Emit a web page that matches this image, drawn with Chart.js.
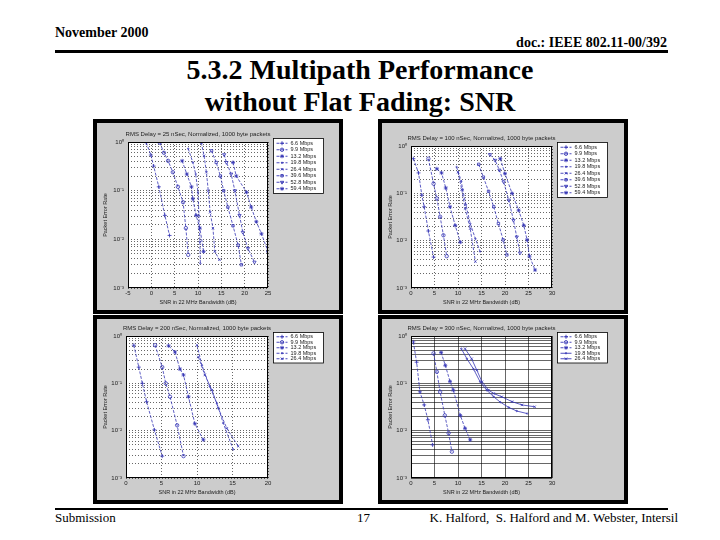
<!DOCTYPE html>
<html><head><meta charset="utf-8">
<script src="https://cdn.jsdelivr.net/npm/chart.js@4.4.0/dist/chart.umd.min.js"></script>
<style>
body{margin:0;width:720px;height:540px;background:#fff;position:relative;overflow:hidden;font-family:"Liberation Serif","Times New Roman",serif;}
.t{position:absolute;white-space:nowrap;color:#000;line-height:1;}
.panel{position:absolute;background:#cccccc;border:4px solid #000;box-sizing:border-box;}
.panel canvas{position:absolute;left:0;top:0;}
.hr{position:absolute;background:#000;}
</style></head>
<body>
<div class="t" style="left:55px;top:26px;font-weight:bold;font-size:14px;">November 2000</div>
<div class="t" style="right:53px;top:36px;font-weight:bold;font-size:14px;">doc.: IEEE 802.11-00/392</div>
<div class="hr" style="left:55px;top:50px;width:613px;height:3px;"></div>
<div class="t" style="left:0;width:720px;text-align:center;top:56px;font-weight:bold;font-size:28px;">5.3.2 Multipath Performance</div>
<div class="t" style="left:0;width:720px;text-align:center;top:88px;font-weight:bold;font-size:28px;">without Flat Fading: SNR</div>

<div class="panel" id="pan1" style="left:93px;top:119px;width:250px;height:195px;"></div>
<div class="panel" id="pan2" style="left:378px;top:119px;width:250px;height:195px;"></div>
<div class="panel" id="pan3" style="left:93px;top:315px;width:250px;height:189px;"></div>
<div class="panel" id="pan4" style="left:378px;top:315px;width:250px;height:189px;"></div>

<div class="hr" style="left:55px;top:508px;width:613px;height:2px;"></div>
<div class="t" style="left:55px;top:511px;font-size:13px;">Submission</div>
<div class="t" style="left:357px;top:511px;font-size:13px;">17</div>
<div class="t" style="right:42px;top:511px;font-size:13px;">K. Halford,&nbsp; S. Halford and M. Webster, Intersil</div>

<script>
// ---------- data ----------
const rateNames = ['6.6 Mbps','9.9 Mbps','13.2 Mbps','19.8 Mbps','26.4 Mbps','39.6 Mbps','52.8 Mbps','59.4 Mbps'];
const yGridValues = [0.001,0.002,0.003,0.004,0.005,0.006,0.007,0.008,0.009,0.01,0.02,0.03,0.04,0.05,0.06,0.07,0.08,0.09,0.1,0.2,0.3,0.4,0.5,0.6,0.7,0.8,0.9,1];
const yTickText = {'1':'10⁰','0.1':'10⁻¹','0.01':'10⁻²','0.001':'10⁻³'};
const p1XTicks = [-5,0,5,10,15,20,25];
const p2XTicks = [0,5,10,15,20,25,30];
const p3XTicks = [0,5,10,15,20];
const p4XTicks = [0,5,10,15,20,25,30];
const p1Title = 'RMS Delay = 25 nSec, Normalized, 1000 byte packets';
const p2Title = 'RMS Delay = 100 nSec, Normalized, 1000 byte packets';
const p3Title = 'RMS Delay = 200 nSec, Normalized, 1000 byte packets';
const p4Title = 'RMS Delay = 300 nSec, Normalized, 1000 byte packets';
const xTitle = 'SNR in 22 MHz Bandwidth (dB)';
const yTitle = 'Packet Error Rate';

// panel 1: [SNR dB, PER]
const p1_066 = [[-1.1,0.97],[-0.1,0.54],[0.5,0.32],[1.6,0.12],[2.9,0.031],[3.9,0.012]];
const p1_099 = [[1.8,0.97],[2.7,0.6],[3.6,0.41],[4.6,0.24],[5.7,0.12],[6.8,0.058],[7.4,0.017],[7.9,0.0048]];
const p1_132 = [[6.6,0.41],[7.6,0.22],[8.6,0.12],[8.9,0.068],[9.6,0.031],[10.4,0.017],[11.2,0.0056]];
const p1_198 = [[7.9,0.73],[8.9,0.38],[9.5,0.22],[10.0,0.093],[10.2,0.031],[10.4,0.0089],[10.5,0.0032]];
const p1_264 = [[10.7,0.97],[11.3,0.52],[11.8,0.24],[12.2,0.1],[12.6,0.036],[13.2,0.017],[13.6,0.0056],[14.6,0.0038]];
const p1_396 = [[12.9,0.66],[13.9,0.38],[14.8,0.2],[15.5,0.1],[16.4,0.046],[17.5,0.019],[18.6,0.0076],[19.3,0.003]];
const p1_528 = [[15.6,0.55],[16.1,0.38],[17.1,0.22],[17.9,0.1],[18.9,0.031],[19.6,0.014],[20.7,0.0065],[22.1,0.0034]];
const p1_594 = [[17.5,0.38],[18.2,0.2],[20.4,0.093],[21.4,0.046],[22.5,0.023],[23.6,0.013],[25.0,0.0056]];
// panel 2
const p2_066 = [[0.5,0.54],[1.6,0.27],[2.3,0.092],[2.8,0.052],[3.7,0.016],[4.8,0.0045]];
const p2_099 = [[3.7,0.54],[4.8,0.16],[5.5,0.078],[6.2,0.032],[6.9,0.013],[7.6,0.0047]];
const p2_132 = [[5.5,0.33],[6.5,0.27],[7.4,0.13],[8.3,0.052],[9.4,0.021],[10.5,0.0093]];
const p2_198 = [[9.7,0.36],[10.7,0.18],[11.0,0.12],[11.7,0.057],[12.6,0.023],[13.7,0.011],[14.7,0.0059]];
const p2_264 = [[10.0,0.28],[10.8,0.12],[11.5,0.048],[12.6,0.018],[13.7,0.0036]];
const p2_396 = [[14.4,0.41],[15.4,0.22],[16.5,0.11],[17.6,0.052],[18.6,0.023],[19.6,0.0104],[20.4,0.005]];
const p2_528 = [[16.8,0.66],[17.9,0.5],[18.8,0.31],[19.7,0.175],[20.8,0.072],[21.8,0.027],[22.5,0.012],[23.2,0.0055]];
const p2_594 = [[19.0,0.54],[20.0,0.26],[21.5,0.1],[22.9,0.044],[24.0,0.021],[24.7,0.0104],[25.2,0.0047],[26.4,0.0024]];
// panel 3
const p3_066 = [[1.1,0.64],[1.8,0.22],[2.3,0.1],[2.9,0.041],[4.0,0.0104],[5.1,0.0029]];
const p3_099 = [[4.1,0.64],[5.1,0.22],[5.6,0.1],[6.2,0.052],[7.2,0.013],[8.1,0.0029]];
const p3_132 = [[6.0,0.62],[6.9,0.46],[7.6,0.2],[8.1,0.15],[8.8,0.052],[9.7,0.014],[10.9,0.0064]];
const p3_198 = [[10.0,0.64],[10.7,0.24],[11.8,0.085],[12.8,0.038],[13.7,0.0144],[15.1,0.004]];
const p3_264 = [[10.2,0.36],[11.1,0.15],[12.1,0.072],[13.0,0.03],[14.2,0.0112],[15.8,0.0047]];
// panel 4
const p4_066 = [[0.5,0.75],[1.2,0.28],[1.9,0.066],[2.8,0.035],[3.6,0.017],[4.6,0.005]];
const p4_099 = [[4.8,0.43],[5.5,0.175],[6.2,0.066],[7.2,0.021],[8.0,0.0089],[8.7,0.0036]];
const p4_132 = [[6.4,0.45],[7.3,0.24],[8.3,0.11],[9.0,0.072],[10.5,0.021],[11.5,0.0112],[12.6,0.0064]];
const p4_198 = [[10.7,0.54],[11.9,0.33],[13.3,0.2],[14.7,0.108],[16.1,0.072],[17.6,0.052],[19.0,0.04],[20.8,0.031],[22.5,0.026],[24.7,0.023]];
const p4_264 = [[11.5,0.54],[12.9,0.33],[14.0,0.19],[15.1,0.108],[16.5,0.072],[17.6,0.061],[19.3,0.052],[21.5,0.041],[23.6,0.035],[26.3,0.032]];

// ---------- styles ----------
const lineColor = '#3535b5';
const rateMarker = ['cross','circle','star','circle','crossRot','rect','triangle','star'];
const rateRadius = [2,1.7,2,0.7,1.7,1.7,1.9,2];
const rateRotation = [0,0,0,0,0,0,180,0];

const chartFont = '"Liberation Sans", Arial, sans-serif';

const decorPlugin = {
  id: 'decor',
  beforeDraw(chart) {
    const {ctx, chartArea: a} = chart;
    ctx.save(); ctx.fillStyle = '#fff';
    ctx.fillRect(a.left, a.top, a.right - a.left, a.bottom - a.top);
    ctx.restore();
  },
  afterDraw(chart, args, o) {
    const {ctx, chartArea: a} = chart;
    ctx.save();
    ctx.setLineDash([]);
    ctx.strokeStyle = '#000'; ctx.lineWidth = 1;
    ctx.strokeRect(Math.round(a.left) + 0.5, Math.round(a.top) + 0.5, Math.round(a.right - a.left) - 1, Math.round(a.bottom - a.top) - 1);
    ctx.fillStyle = '#222'; ctx.font = '6px ' + chartFont;
    ctx.textAlign = 'center'; ctx.textBaseline = 'middle';
    ctx.fillText(o.title, (a.left + a.right) / 2, a.top - o.titleGap);
    // legend
    const ds = chart.data.datasets;
    const x0 = Math.round(a.right + o.legDx) + 0.5, y0 = Math.round(a.top + o.legDy) + 0.5;
    const rowH = o.rowH, w = o.legW, h = ds.length * rowH + 3;
    ctx.fillStyle = '#fff'; ctx.fillRect(x0, y0, w, h);
    ctx.strokeStyle = '#000'; ctx.lineWidth = 0.8; ctx.strokeRect(x0, y0, w, h);
    ds.forEach((d, i) => {
      const yy = y0 + 1.5 + rowH * (i + 0.5);
      ctx.strokeStyle = d.borderColor; ctx.lineWidth = 0.9;
      ctx.setLineDash(d.borderDash || []);
      ctx.beginPath(); ctx.moveTo(x0 + 3, yy); ctx.lineTo(x0 + 14, yy); ctx.stroke();
      ctx.setLineDash([]);
      ctx.fillStyle = 'rgba(0,0,0,0)';
      Chart.helpers.drawPoint(ctx, {pointStyle: d.pointStyle, radius: d.pointRadius, rotation: d.pointRotation || 0, borderWidth: 0.8}, x0 + 8.5, yy);
      ctx.fillStyle = '#222'; ctx.font = '5.5px ' + chartFont;
      ctx.textAlign = 'left'; ctx.textBaseline = 'middle';
      ctx.fillText(d.label, x0 + 17, yy);
    });
    ctx.restore();
  }
};

const panels = [
  {el:'pan1', w:242, h:187, yW:31, xH:22, padTop:19, padRight:71, xMin:-5, xMax:25, xTicks:p1XTicks, title:p1Title,
   series:[p1_066,p1_099,p1_132,p1_198,p1_264,p1_396,p1_528,p1_594], solid:[], gridDash:[1,2], rowH:6.5},
  {el:'pan2', w:242, h:187, yW:29, xH:22, padTop:23, padRight:72, xMin:0, xMax:30, xTicks:p2XTicks, title:p2Title,
   series:[p2_066,p2_099,p2_132,p2_198,p2_264,p2_396,p2_528,p2_594], solid:[], gridDash:[1,2], rowH:6.5},
  {el:'pan3', w:242, h:181, yW:29, xH:22, padTop:17, padRight:71, xMin:0, xMax:20, xTicks:p3XTicks, title:p3Title,
   series:[p3_066,p3_099,p3_132,p3_198,p3_264], solid:[], gridDash:[1,2], rowH:5.5},
  {el:'pan4', w:242, h:181, yW:29, xH:22, padTop:17, padRight:72, xMin:0, xMax:30, xTicks:p4XTicks, title:p4Title,
   series:[p4_066,p4_099,p4_132,p4_198,p4_264], solid:[3,4], gridDash:[], rowH:5.5}
];

panels.forEach(p => {
  const holder = document.getElementById(p.el);
  const cv = document.createElement('canvas');
  cv.width = p.w; cv.height = p.h;
  cv.style.width = p.w + 'px'; cv.style.height = p.h + 'px';
  holder.appendChild(cv);
  const datasets = p.series.map((s, i) => ({
    label: rateNames[i],
    data: s.map(pt => ({x: pt[0], y: pt[1]})),
    showLine: true,
    borderColor: lineColor,
    backgroundColor: 'rgba(0,0,0,0)',
    borderWidth: 0.8,
    borderDash: p.solid.includes(i) ? [] : [3, 1.5],
    pointStyle: rateMarker[i],
    pointRadius: rateRadius[i],
    pointRotation: rateRotation[i],
    pointBorderColor: lineColor,
    pointBorderWidth: 0.8,
    pointBackgroundColor: 'rgba(0,0,0,0)'
  }));
  new Chart(cv, {
    type: 'scatter',
    data: {datasets},
    plugins: [decorPlugin],
    options: {
      responsive: false, animation: false, devicePixelRatio: 1,
      layout: {padding: {top: p.padTop, right: p.padRight, left: 0, bottom: 0}},
      plugins: {
        legend: {display: false}, tooltip: {enabled: false},
        decor: {title: p.title, titleGap: 8, legDx: 5, legDy: -4, rowH: p.rowH, legW: 50}
      },
      scales: {
        x: {
          type: 'linear', min: p.xMin, max: p.xMax,
          afterBuildTicks: s => { s.ticks = p.xTicks.map(v => ({value: v})); },
          afterFit: s => { s.height = p.xH; },
          grid: {color: '#000', lineWidth: 0.6, drawTicks: false},
          border: {display: false, dash: p.gridDash},
          ticks: {color: '#222', font: {size: 6, family: chartFont}, padding: 2, maxRotation: 0, autoSkip: false},
          title: {display: true, text: xTitle, color: '#222', font: {size: 5.5, family: chartFont}, padding: {top: 0, bottom: 4}}
        },
        y: {
          type: 'logarithmic', min: 0.001, max: 1,
          afterBuildTicks: s => { s.ticks = yGridValues.map(v => ({value: v})); },
          afterFit: s => { s.width = p.yW; },
          grid: {color: '#000', lineWidth: 0.6, drawTicks: false},
          border: {display: false, dash: p.gridDash},
          ticks: {color: '#222', font: {size: 6, family: chartFont}, padding: 4, autoSkip: false,
                  callback: v => yTickText[String(v)] || ''},
          title: {display: true, text: yTitle, color: '#222', font: {size: 5.5, family: chartFont}, padding: {top: 5, bottom: 0}}
        }
      }
    }
  });
});
</script>
</body></html>
